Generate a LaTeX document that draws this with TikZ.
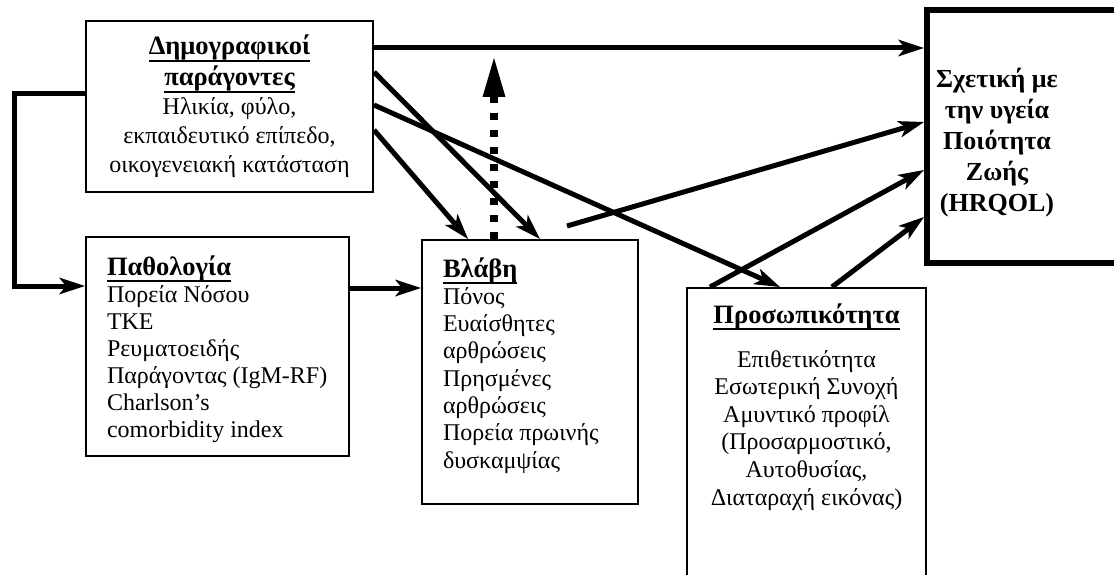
\documentclass[tikz,border=0pt]{standalone}
\usepackage{fontspec}
\setmainfont{Liberation Serif}
\usetikzlibrary{arrows.meta}
\newlength\ulw
\newcommand{\titlefont}{\fontsize{26.5pt}{28pt}\selectfont\bfseries}
\newcommand{\ulin}[1]{\leavevmode\settowidth{\ulw}{\titlefont #1}\rlap{\rule[-7pt]{\ulw}{2pt}}{\titlefont #1}}
\tikzset{
  thinbox/.style={draw, line width=2pt, inner sep=0pt, font=\fontsize{24pt}{28pt}\selectfont},
  thickbox/.style={draw, line width=6pt, inner sep=0pt, font=\fontsize{26pt}{31pt}\selectfont},
  conn/.style={line width=5pt, -{Stealth[length=26pt,width=17pt,inset=7pt,line width=0pt]}},
  dotconn/.style={line width=7.5pt, dash pattern=on 7pt off 10pt, -{Triangle[length=39pt,width=23pt,line width=0pt]}},
}
\begin{document}
\begin{tikzpicture}[x=1pt,y=-1pt]
\useasboundingbox (0,0) rectangle (1114,575);
\clip (0,0) rectangle (1114,575);
% boxes
\node[thinbox] (demo) at (229.5,106.5) {\parbox[t][171pt][t]{287pt}{\centering\baselineskip=28.7pt
  \rule{0pt}{34pt}\ulin{Δημογραφικοί}\\[2.3pt]\ulin{παράγοντες}\\Ηλικία, φύλο,\\εκπαιδευτικό επίπεδο,\\οικογενειακή κατάσταση}};
\node[thinbox] (path) at (217.5,346.5) {\parbox[t][219pt][t]{263pt}{\raggedright\leftskip=21pt\baselineskip=27pt
  \rule{0pt}{38pt}\ulin{Παθολογία}\\Πορεία Νόσου\\ΤΚΕ\\Ρευματοειδής\\Παράγοντας (IgM-RF)\\Charlson’s\\comorbidity index}};
\node[thinbox] (vlavi) at (530,372) {\parbox[t][264pt][t]{216pt}{\raggedright\leftskip=21pt\baselineskip=27.3pt
  \rule{0pt}{37pt}\ulin{Βλάβη}\\Πόνος\\Ευαίσθητες\\αρθρώσεις\\Πρησμένες\\αρθρώσεις\\Πορεία πρωινής\\δυσκαμψίας}};
\node[thinbox] (pers) at (806.5,444) {\parbox[t][312pt][t]{239pt}{\centering\baselineskip=27.6pt
  \rule{0pt}{35pt}\ulin{Προσωπικότητα}\\[16.4pt]Επιθετικότητα\\Εσωτερική Συνοχή\\Αμυντικό προφίλ\\(Προσαρμοστικό,\\Αυτοθυσίας,\\Διαταραχή εικόνας)}};
\node[thickbox] (hrq) at (1026,136.5) {\parbox[t][253pt][t]{198pt}{\parbox[t]{140pt}{\centering\bfseries\baselineskip=31pt
  \rule{0pt}{78pt}Σχετική με\\την υγεία\\Ποιότητα\\Ζωής\\(HRQOL)}}};
% coordinates
\coordinate (d1) at ([yshift=-28pt]demo.north east);
\coordinate (l0) at ([yshift=-74pt]demo.north west);
\coordinate (l1) at ([yshift=-50pt]path.north west);
\coordinate (l2) at ([yshift=-52pt]path.north east);
\coordinate (dt) at ([xshift=73pt,yshift=181pt]vlavi.north west);
\coordinate (v0) at ([xshift=146pt,yshift=13pt]vlavi.north west);
% connectors
\draw[conn] (d1) -- (d1 -| hrq.west);
\draw[conn] ([yshift=-52pt]demo.north east) -- ([xshift=119pt]vlavi.north west);
\draw[conn] ([yshift=-85pt]demo.north east) -- ([xshift=94pt]pers.north west);
\draw[conn] ([yshift=-110pt]demo.north east) -- ([xshift=47pt]vlavi.north west);
\draw[dotconn] ([xshift=73pt]vlavi.north west) -- (dt);
\draw[conn] (v0) -- ([yshift=-115pt]hrq.north west);
\draw[conn] ([xshift=24pt]pers.north west) -- ([yshift=-163pt]hrq.north west);
\draw[conn] ([xshift=146pt]pers.north west) -- ([yshift=-210pt]hrq.north west);
\draw[conn] (l0) -- ++(-71,0) |- (l1);
\draw[conn] (l2) -- (l2 -| vlavi.west);
\end{tikzpicture}
\end{document}
